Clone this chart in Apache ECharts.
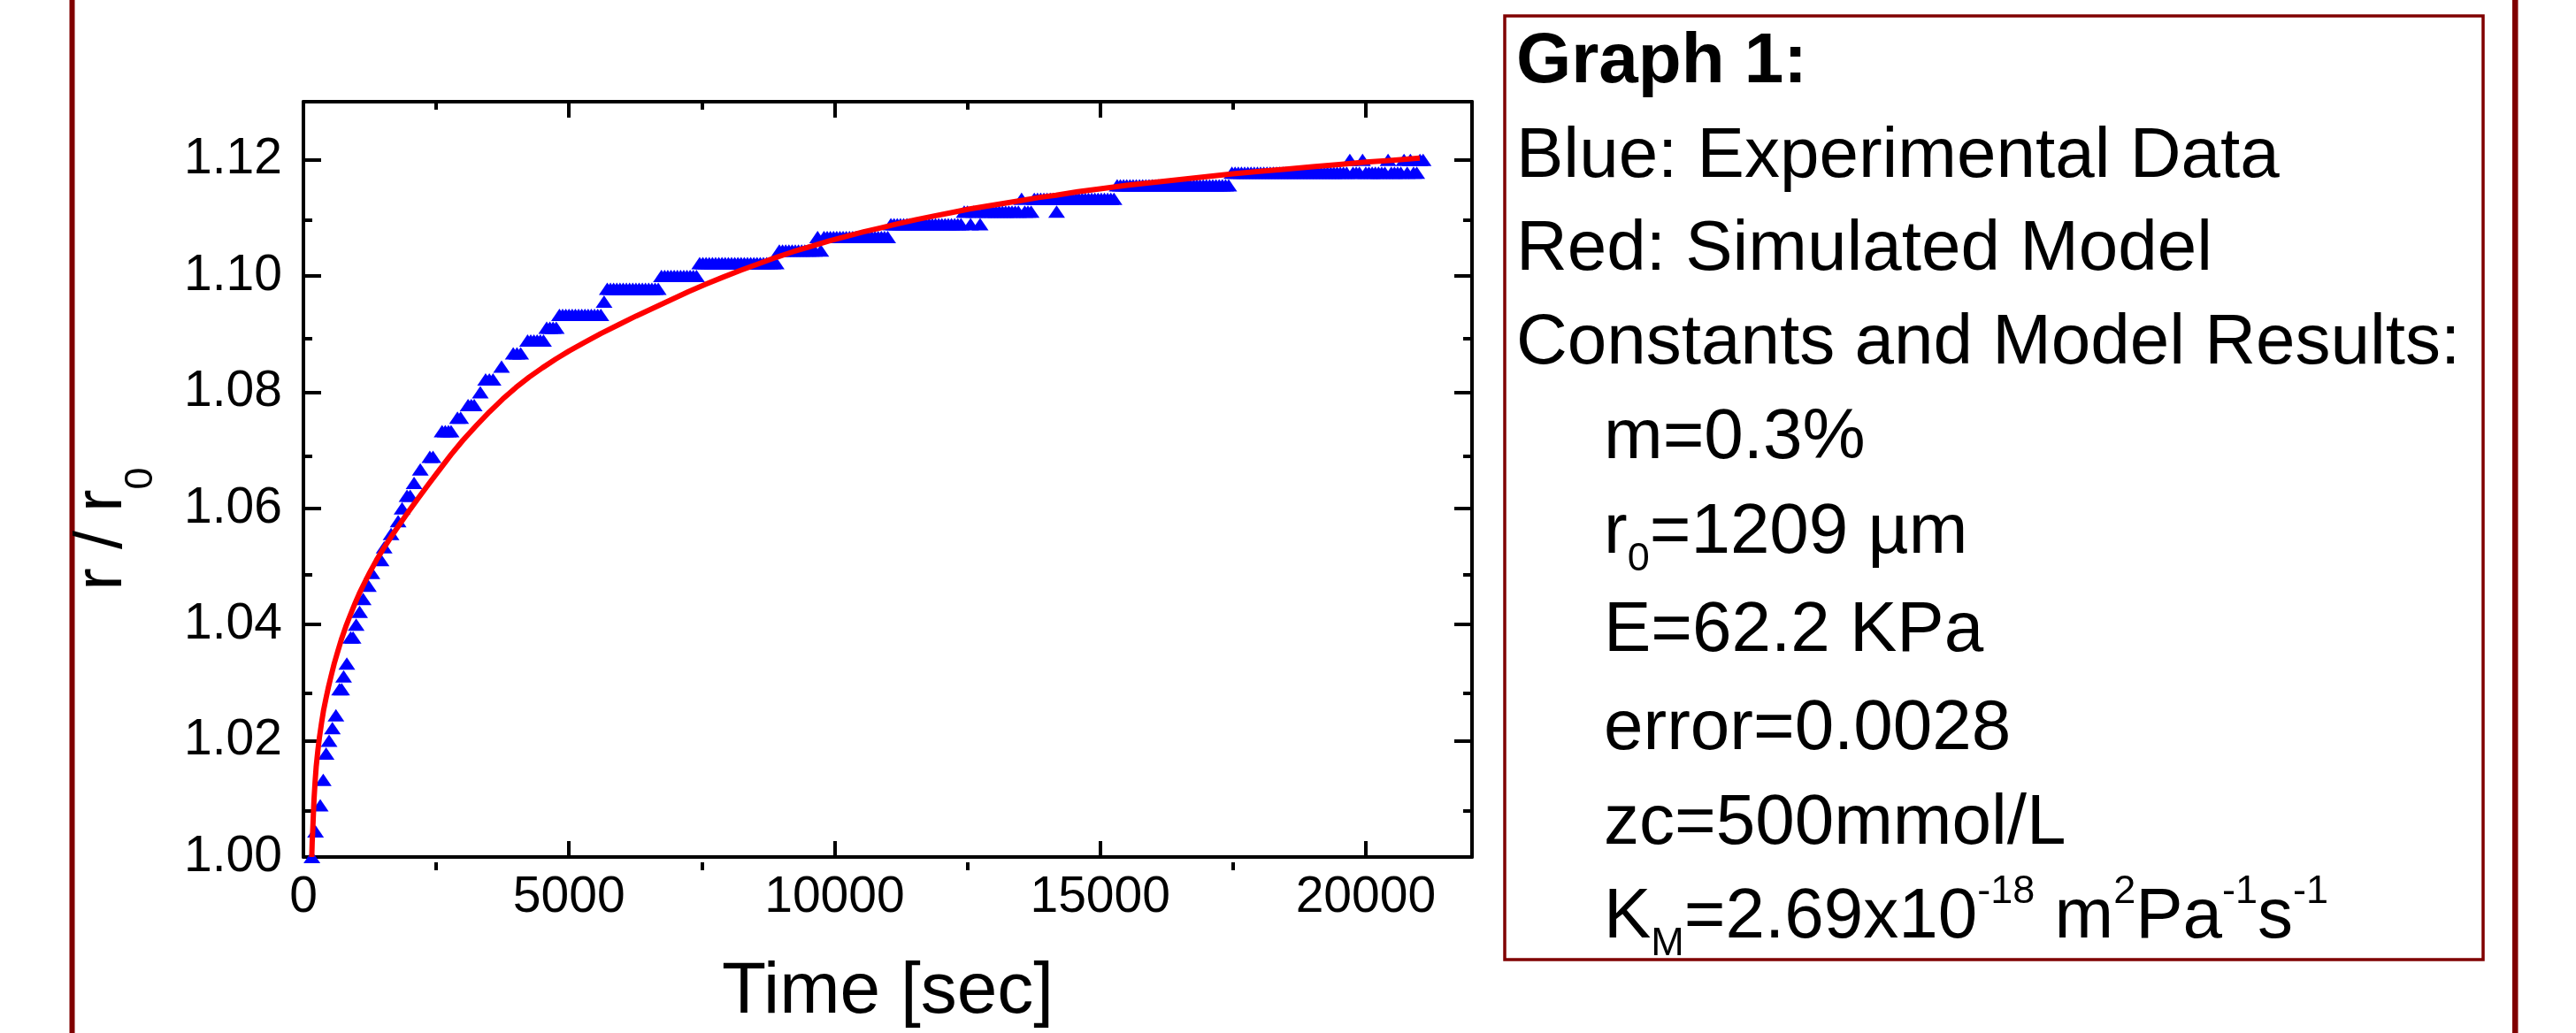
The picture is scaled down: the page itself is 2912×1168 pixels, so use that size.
<!DOCTYPE html>
<html>
<head>
<meta charset="utf-8">
<script src="https://cdn.jsdelivr.net/npm/echarts@6/dist/echarts.min.js"></script>
<style>
html,body{margin:0;padding:0;background:#ffffff;}
#chart{width:2912px;height:1168px;}
</style>
</head>
<body>
<div id="chart"></div>
<script>
// ---------- axis ticks / labels ----------
const xMajorTicks = [0, 5000, 10000, 15000, 20000];
const xMinorTicks = [2500, 7500, 12500, 17500];
const yMajorTicks = [1.00, 1.02, 1.04, 1.06, 1.08, 1.10, 1.12];
const yMinorTicks = [1.01, 1.03, 1.05, 1.07, 1.09, 1.11];
const xName = 'Time [sec]';

// ---------- experimental data (blue triangles): [time s, r/r0] ----------
const experimental = [
[160,1.0000],[228,1.0044],[317,1.0089],[373,1.0133],[427,1.0178],[483,1.0200],[545,1.0222],[612,1.0244],
[680,1.0289],[720,1.0289],[757,1.0311],[817,1.0333],[890,1.0378],[935,1.0378],[993,1.0400],[1058,1.0422],
[1125,1.0444],[1223,1.0467],[1290,1.0489],[1462,1.0511],[1520,1.0533],[1650,1.0556],[1783,1.0578],[1857,1.0600],
[1950,1.0622],[2010,1.0622],[2083,1.0644],[2200,1.0667],[2380,1.0689],[2440,1.0689],
[2610,1.0733],[2670,1.0733],[2730,1.0733],[2780,1.0733],[2900,1.0756],[2960,1.0756],
[3100,1.0778],[3160,1.0778],[3215,1.0778],[3330,1.0800],[3430,1.0822],[3500,1.0822],[3570,1.0822],
[3730,1.0844],[3950,1.0867],[4020,1.0867],[4090,1.0867],
[4220,1.0889],[4280,1.0889],[4340,1.0889],[4400,1.0889],[4460,1.0889],[4520,1.0889],
[4580,1.0911],[4640,1.0911],[4700,1.0911],[4760,1.0911],
[4820,1.0933],[4880,1.0933],[4940,1.0933],[5000,1.0933],[5060,1.0933],[5120,1.0933],[5180,1.0933],
[5240,1.0933],[5300,1.0933],[5360,1.0933],[5420,1.0933],[5480,1.0933],[5540,1.0933],[5600,1.0933],
[5660,1.0956],
[5720,1.0978],[5780,1.0978],[5840,1.0978],[5900,1.0978],[5960,1.0978],[6020,1.0978],[6080,1.0978],[6140,1.0978],
[6200,1.0978],[6260,1.0978],[6320,1.0978],[6380,1.0978],[6440,1.0978],[6500,1.0978],[6560,1.0978],[6620,1.0978],[6680,1.0978],
[6740,1.1000],[6800,1.1000],[6860,1.1000],[6920,1.1000],[6980,1.1000],[7040,1.1000],[7100,1.1000],[7160,1.1000],
[7220,1.1000],[7280,1.1000],[7340,1.1000],[7400,1.1000],
[7460,1.1022],[7520,1.1022],[7580,1.1022],[7640,1.1022],[7700,1.1022],[7760,1.1022],[7820,1.1022],[7880,1.1022],
[7940,1.1022],[8000,1.1022],[8060,1.1022],[8120,1.1022],[8180,1.1022],[8240,1.1022],[8300,1.1022],[8360,1.1022],
[8420,1.1022],[8480,1.1022],[8540,1.1022],[8600,1.1022],[8660,1.1022],[8720,1.1022],[8780,1.1022],[8840,1.1022],[8900,1.1022],
[8960,1.1044],[9020,1.1044],[9080,1.1044],[9140,1.1044],[9200,1.1044],[9260,1.1044],[9320,1.1044],[9380,1.1044],
[9440,1.1044],[9500,1.1044],[9560,1.1044],[9620,1.1044],[9740,1.1044],
[9680,1.1067],[9800,1.1067],[9860,1.1067],[9920,1.1067],[9980,1.1067],[10040,1.1067],[10100,1.1067],[10160,1.1067],
[10220,1.1067],[10280,1.1067],[10340,1.1067],[10400,1.1067],[10460,1.1067],[10520,1.1067],[10580,1.1067],[10640,1.1067],
[10700,1.1067],[10760,1.1067],[10820,1.1067],[10880,1.1067],[10940,1.1067],[11000,1.1067],
[11060,1.1089],[11120,1.1089],[11180,1.1089],[11240,1.1089],[11300,1.1089],[11360,1.1089],[11420,1.1089],[11480,1.1089],
[11540,1.1089],[11600,1.1089],[11660,1.1089],[11720,1.1089],[11780,1.1089],[11840,1.1089],[11900,1.1089],[11960,1.1089],
[12020,1.1089],[12080,1.1089],[12140,1.1089],[12200,1.1089],[12260,1.1089],[12320,1.1089],[12380,1.1089],[12560,1.1089],[12740,1.1089],
[12440,1.1111],[12500,1.1111],[12620,1.1111],[12680,1.1111],[12800,1.1111],[12860,1.1111],[12920,1.1111],[12980,1.1111],
[13040,1.1111],[13100,1.1111],[13160,1.1111],[13220,1.1111],[13280,1.1111],[13340,1.1111],[13400,1.1111],[13460,1.1111],
[13580,1.1111],[13640,1.1111],[13700,1.1111],[14180,1.1111],
[13520,1.1133],[13760,1.1133],[13820,1.1133],[13880,1.1133],[13940,1.1133],[14000,1.1133],[14060,1.1133],[14120,1.1133],
[14240,1.1133],[14300,1.1133],[14360,1.1133],[14420,1.1133],[14480,1.1133],[14540,1.1133],[14600,1.1133],[14660,1.1133],
[14720,1.1133],[14780,1.1133],[14840,1.1133],[14900,1.1133],[14960,1.1133],[15020,1.1133],[15080,1.1133],[15140,1.1133],
[15200,1.1133],[15260,1.1133],
[15320,1.1156],[15380,1.1156],[15440,1.1156],[15500,1.1156],[15560,1.1156],[15620,1.1156],[15680,1.1156],[15740,1.1156],
[15800,1.1156],[15860,1.1156],[15920,1.1156],[15980,1.1156],[16040,1.1156],[16100,1.1156],[16160,1.1156],[16220,1.1156],
[16280,1.1156],[16340,1.1156],[16400,1.1156],[16460,1.1156],[16520,1.1156],[16580,1.1156],[16640,1.1156],[16700,1.1156],
[16760,1.1156],[16820,1.1156],[16880,1.1156],[16940,1.1156],[17000,1.1156],[17060,1.1156],[17120,1.1156],[17180,1.1156],
[17240,1.1156],[17300,1.1156],[17360,1.1156],[17420,1.1156],
[17480,1.1178],[17540,1.1178],[17600,1.1178],[17660,1.1178],[17720,1.1178],[17780,1.1178],[17840,1.1178],[17900,1.1178],
[17960,1.1178],[18020,1.1178],[18080,1.1178],[18140,1.1178],[18200,1.1178],[18260,1.1178],[18320,1.1178],[18380,1.1178],
[18440,1.1178],[18500,1.1178],[18560,1.1178],[18620,1.1178],[18680,1.1178],[18740,1.1178],[18800,1.1178],[18860,1.1178],
[18920,1.1178],[18980,1.1178],[19040,1.1178],[19100,1.1178],[19160,1.1178],[19220,1.1178],[19280,1.1178],[19340,1.1178],
[19400,1.1178],[19460,1.1178],[19520,1.1178],[19580,1.1178],[19640,1.1178],[19760,1.1178],[19820,1.1178],[19880,1.1178],
[20000,1.1178],[20060,1.1178],[20120,1.1178],[20180,1.1178],[20240,1.1178],[20300,1.1178],[20360,1.1178],[20480,1.1178],
[20540,1.1178],[20600,1.1178],[20660,1.1178],[20780,1.1178],[20900,1.1178],[20960,1.1178],
[19700,1.1200],[19940,1.1200],[20420,1.1200],[20720,1.1200],[20840,1.1200],[21020,1.1200],[21080,1.1200]
];

// ---------- simulated model (red line): [time s, r/r0] ----------
const model = [
[157,1.0000],[165,1.0025],[175,1.0045],[187,1.0072],[200,1.0100],[220,1.0130],[240,1.0155],[270,1.0182],
[300,1.0205],[340,1.0230],[380,1.0253],[425,1.0273],[470,1.0292],[525,1.0313],[580,1.0333],[650,1.0355],
[720,1.0376],[800,1.0397],[880,1.0416],[965,1.0435],[1050,1.0453],[1150,1.0472],[1250,1.0490],[1375,1.0511],
[1500,1.0530],[1650,1.0551],[1800,1.0571],[1975,1.0594],[2150,1.0616],[2350,1.0641],[2550,1.0665],[2775,1.0692],
[3000,1.0717],[3250,1.0742],[3500,1.0766],[3750,1.0788],[4000,1.0808],[4250,1.0826],[4500,1.0842],[4750,1.0857],
[5000,1.0871],[5300,1.0886],[5600,1.0901],[5930,1.0916],[6260,1.0931],[6590,1.0945],[6920,1.0959],[7250,1.0973],
[7578,1.0986],[7900,1.0998],[8237,1.1010],[8570,1.1021],[8897,1.1032],[9225,1.1042],[9555,1.1051],[9885,1.1060],
[10215,1.1068],[10545,1.1076],[10873,1.1083],[11200,1.1090],[11533,1.1097],[11860,1.1103],[12192,1.1109],
[12520,1.1115],[12850,1.1120],[13180,1.1125],[13510,1.1130],[13840,1.1135],[14168,1.1139],[14580,1.1145],
[15000,1.1150],[15500,1.1156],[16000,1.1161],[16500,1.1166],[17000,1.1171],[17500,1.1176],[18000,1.1180],
[18500,1.1184],[19000,1.1188],[19500,1.1192],[20000,1.1196],[20500,1.1199],[21017,1.1203]
];

// ---------- text box ----------
const infoLines = [
  'Graph 1:',
  'Blue: Experimental Data',
  'Red: Simulated Model',
  'Constants and Model Results:',
  '{t|m=0.3%}',
  '{t|r}{s|0}{t|=1209 µm}',
  '{t|E=62.2 KPa}',
  '{t|error=0.0028}',
  '{t|zc=500mmol/L}',
  '{t|K}{s|M}{t|=2.69x10}{p|-18}{t| m}{p|2}{t|Pa}{p|-1}{t|s}{p|-1}'
];
const infoIndent = [false, false, false, false, true, true, true, true, true, true];
const infoBaselines = [97, 204, 309, 415, 522, 629, 740, 851, 958, 1064];

const FONT = '"Liberation Sans", Arial, Helvetica, sans-serif';
const MAROON = '#800000';
const GRID = {left: 343, right: 1248, top: 115, bottom: 184};

function xAx(grid, pos, ticks, len, showLine, extra) {
  return Object.assign({
    type: 'value', gridIndex: grid, position: pos, min: 0, max: 22000,
    axisLine: {show: showLine, onZero: false, lineStyle: {color: '#000', width: 4}},
    axisTick: {show: true, inside: true, length: len, customValues: ticks, lineStyle: {color: '#000', width: 4}},
    axisLabel: {show: false},
    splitLine: {show: false}
  }, extra || {});
}
function yAx(grid, pos, ticks, len, showLine, extra) {
  return Object.assign({
    type: 'value', gridIndex: grid, position: pos, min: 1.0, max: 1.13,
    axisLine: {show: showLine, onZero: false, lineStyle: {color: '#000', width: 4}},
    axisTick: {show: true, inside: true, length: len, customValues: ticks, lineStyle: {color: '#000', width: 4}},
    axisLabel: {show: false},
    splitLine: {show: false}
  }, extra || {});
}

const graphics = [
  {type: 'rect', shape: {x: 78.5, y: 0, width: 6, height: 1168}, style: {fill: MAROON}},
  {type: 'rect', shape: {x: 2840, y: 0, width: 6.5, height: 1168}, style: {fill: MAROON}},
  {type: 'rect', shape: {x: 1701, y: 18, width: 1106, height: 1067}, style: {fill: 'none', stroke: MAROON, lineWidth: 3.5}},
  {type: 'text', x: 116, y: 598, rotation: Math.PI / 2,
   style: {text: '{a|r / r}{b|0}', align: 'center', verticalAlign: 'middle',
     rich: {a: {fontSize: 76, fontFamily: FONT, fill: '#000', lineHeight: 132},
            b: {fontSize: 45, fontFamily: FONT, fill: '#000', lineHeight: 45, verticalAlign: 'bottom'}}}}
];
const F = 80;
infoLines.forEach(function (txt, i) {
  graphics.push({
    type: 'text',
    x: infoIndent[i] ? 1813 : 1714,
    y: infoBaselines[i] - 0.33 * F,
    style: {
      text: txt,
      fontSize: F,
      fontFamily: FONT,
      fontWeight: i === 0 ? 'bold' : 'normal',
      fill: '#000',
      align: 'left',
      verticalAlign: 'middle',
      rich: {
        t: {fontSize: F, fontFamily: FONT, fill: '#000', lineHeight: 104},
        s: {fontSize: 45, fontFamily: FONT, fill: '#000', lineHeight: 45, verticalAlign: 'bottom'},
        p: {fontSize: 45, fontFamily: FONT, fill: '#000', lineHeight: 67, verticalAlign: 'top'}
      }
    }
  });
});

const chart = echarts.init(document.getElementById('chart'), null, {renderer: 'canvas'});
chart.setOption({
  animation: false,
  backgroundColor: '#ffffff',
  grid: [Object.assign({}, GRID), Object.assign({}, GRID)],
  xAxis: [
    xAx(0, 'bottom', xMajorTicks, 18, true, {
      axisLabel: {show: true, customValues: xMajorTicks, fontSize: 57, fontFamily: FONT, color: '#000', margin: 18,
        formatter: function (v) { return String(Math.round(v)); }},
      name: xName, nameLocation: 'middle', nameGap: 112,
      nameTextStyle: {fontSize: 82, fontFamily: FONT, color: '#000'}
    }),
    xAx(0, 'top', xMajorTicks, 18, true),
    xAx(1, 'bottom', xMinorTicks, 9, false),
    xAx(1, 'top', xMinorTicks, 9, false)
  ],
  yAxis: [
    yAx(0, 'left', yMajorTicks, 20, true, {
      axisLabel: {show: true, customValues: yMajorTicks, fontSize: 57, fontFamily: FONT, color: '#000', margin: 24,
        formatter: function (v) { return Number(v).toFixed(2); }}
    }),
    yAx(0, 'right', yMajorTicks, 20, true),
    yAx(1, 'left', yMinorTicks, 10, false),
    yAx(1, 'right', yMinorTicks, 10, false)
  ],
  series: [
    {type: 'scatter', xAxisIndex: 0, yAxisIndex: 0, data: experimental,
     symbol: 'triangle', symbolSize: [19, 14], itemStyle: {color: '#0000ff', opacity: 1}, z: 2},
    {type: 'line', xAxisIndex: 0, yAxisIndex: 0, data: model, showSymbol: false,
     smooth: false, lineStyle: {color: '#ff0000', width: 6, join: 'round'}, z: 3}
  ],
  graphic: graphics
});
</script>
</body>
</html>
